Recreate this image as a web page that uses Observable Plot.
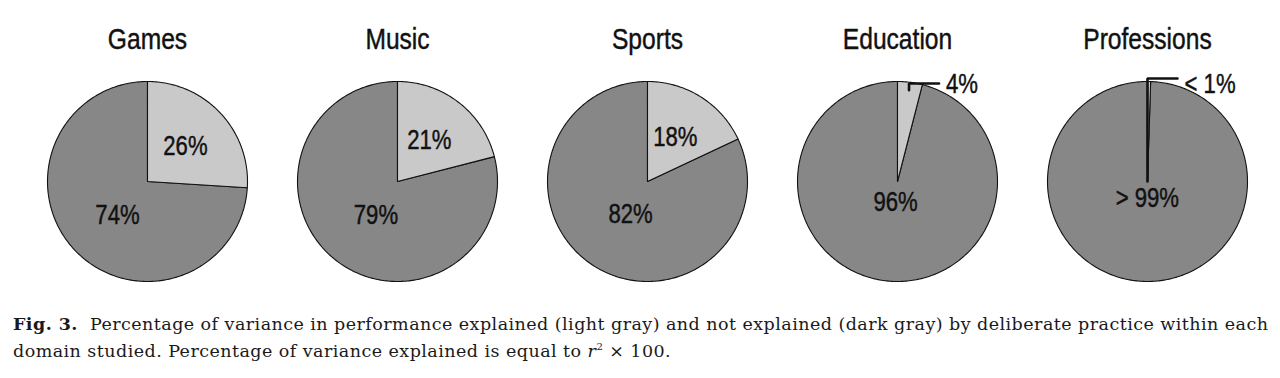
<!DOCTYPE html>
<html>
<head>
<meta charset="utf-8">
<script src="https://cdn.jsdelivr.net/npm/d3@7"></script>
<script src="https://cdn.jsdelivr.net/npm/@observablehq/plot@0.6"></script>
<style>
  html, body { margin: 0; padding: 0; background: #fff; }
  #chart svg { display: block; }
  #caption {
    font-family: "DejaVu Serif", "Liberation Serif", serif;
    font-size: 17.5px;
    letter-spacing: 0.45px;
    line-height: 27px;
    color: #1a1a1a;
    padding: 11px 0 0 13px;
    white-space: nowrap;
  }
</style>
</head>
<body>
<div id="chart"></div>
<div id="caption"><b>Fig. 3.</b>&nbsp; Percentage of variance in performance explained (light gray) and not explained (dark gray) by deliberate practice within each<br>domain studied. Percentage of variance explained is equal to <i>r</i><sup style="font-size:10px;vertical-align:7px;line-height:0">2</sup> × 100.</div>
<script>
// ---- data ----
const domains = ["Games", "Music", "Sports", "Education", "Professions"];
const explainedPct = [26, 21, 18, 4, 0.5];
const explainedText = ["26%", "21%", "18%", "4%", "< 1%"];
const unexplainedText = ["74%", "79%", "82%", "96%", "> 99%"];

// ---- derived geometry (unit circle, angles clockwise from 12 o'clock) ----
const TAU = 2 * Math.PI;
function arc(domain, kind, a0, a1) {
  const pts = [{domain, kind, key: domain + kind, x: 0, y: 0}];
  const n = Math.max(2, Math.ceil((a1 - a0) / (Math.PI / 180)));
  for (let i = 0; i <= n; i++) {
    const a = a0 + (a1 - a0) * i / n;
    pts.push({domain, kind, key: domain + kind, x: Math.sin(a), y: Math.cos(a)});
  }
  pts.push({domain, kind, key: domain + kind, x: 0, y: 0});
  return pts;
}
const lightSlices = [], darkSlices = [], darkLabels = [], lightLabels = [], outsideLabels = [], leaders = [];
domains.forEach((d, i) => {
  const share = explainedPct[i] / 100;
  const aSplit = share * TAU;
  darkSlices.push(...arc(d, "dark", aSplit, TAU));
  lightSlices.push(...arc(d, "light", 0, aSplit));
  const midL = aSplit / 2;
  const midD = (aSplit + TAU) / 2;
  const rD = 0.1 + 1.2 * share;
  darkLabels.push({domain: d, x: rD * Math.sin(midD), y: rD * Math.cos(midD), text: unexplainedText[i]});
  if (share >= 0.1) {
    lightLabels.push({domain: d, x: 0.52 * Math.sin(midL), y: 0.52 * Math.cos(midL), text: explainedText[i]});
  } else {
    const r0 = share < 0.01 ? 0 : 0.92;
    const x0 = r0 * Math.sin(midL), y0 = r0 * Math.cos(midL);
    const ye = share < 0.01 ? 1.03 : 0.98;
    leaders.push({domain: d, x: x0, y: y0}, {domain: d, x: x0, y: ye}, {domain: d, x: x0 + 0.3, y: ye});
    outsideLabels.push({domain: d, x: x0 + 0.3, y: 0.97, text: explainedText[i]});
  }
});

const sans = "'Liberation Sans', Arial, sans-serif";
const txt = {fontFamily: sans, fill: "#111", stroke: "#111", strokeWidth: 0.45};

const chart = Plot.plot({
  width: 1280,
  height: 300,
  marginLeft: 22,
  marginRight: 8,
  marginTop: 0,
  marginBottom: 0,
  fx: {domain: domains, padding: 0, axis: null},
  x: {domain: [-1.25, 1.25], axis: null},
  y: {domain: [-1.19, 1.81], axis: null},
  marks: [
    Plot.line(darkSlices, {fx: "domain", x: "x", y: "y", z: "key", fill: "#878787", stroke: "#111", strokeWidth: 1.1, strokeLinejoin: "round"}),
    Plot.line(lightSlices, {fx: "domain", x: "x", y: "y", z: "key", fill: "#c9c9c9", stroke: "#111", strokeWidth: 1.1, strokeLinejoin: "round"}),
    Plot.line(leaders, {fx: "domain", x: "x", y: "y", z: "domain", stroke: "#111", strokeWidth: 2.6, strokeLinejoin: "miter"}),
    Plot.text(domains, {fx: d => d, text: d => d, frameAnchor: "top", lineAnchor: "middle", dy: 39, fontSize: 30, ...txt}),
    Plot.text(lightLabels, {fx: "domain", x: "x", y: "y", text: "text", fontSize: 27, ...txt}),
    Plot.text(darkLabels, {fx: "domain", x: "x", y: "y", text: "text", dy: 6, fontSize: 27, ...txt}),
    Plot.text(outsideLabels, {fx: "domain", x: "x", y: "y", text: "text", dx: 7, textAnchor: "start", fontSize: 27, ...txt})
  ]
});
document.getElementById("chart").append(chart);
// condensed look: compress glyphs horizontally
chart.querySelectorAll("text").forEach(t => {
  const len = t.getComputedTextLength();
  if (len > 0) {
    t.setAttribute("textLength", (len * 0.82).toFixed(1));
    t.setAttribute("lengthAdjust", "spacingAndGlyphs");
  }
});
</script>
</body>
</html>
